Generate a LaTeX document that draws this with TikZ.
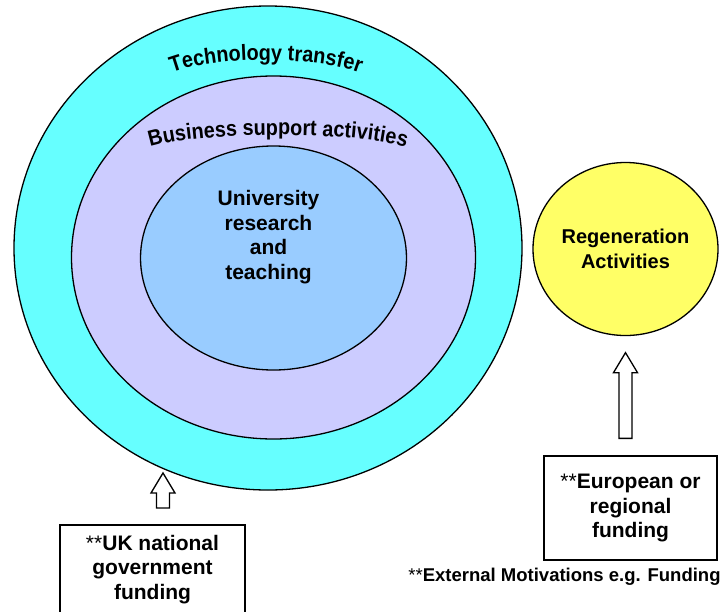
\documentclass[tikz,border=0pt]{standalone}
\usepackage{fontspec}
\setmainfont{Liberation Sans}
\newfontfamily\archfont[FakeStretch=0.9]{Liberation Sans}
\usetikzlibrary{positioning,calc,shapes.geometric,decorations.text}

\definecolor{techcyan}{RGB}{102,255,255}
\definecolor{busililac}{RGB}{204,204,255}
\definecolor{unisky}{RGB}{153,204,255}
\definecolor{regenyellow}{RGB}{255,255,102}

\begin{document}
\begin{tikzpicture}[x=1pt,y=-1pt,line width=1.3pt]
    \tikzset{ring/.style={ellipse, draw=black, inner sep=0pt},
             roundtext/.style={align=center,
                               font=\fontsize{21}{24.5}\selectfont\bfseries},
             boxed/.style={rectangle, draw=black, fill=white, roundtext},
             blockarrow/.style={draw=black, fill=white,
                 to path={let \p1=(\tikztostart), \p2=(\tikztotarget) in
                          (\x1-6.5pt,\y1) -- (\x1-6.5pt,\y2-20pt)
                          -- (\x1-12pt,\y2-20pt) -- (\x2,\y2)
                          -- (\x1+12pt,\y2-20pt) -- (\x1+6.5pt,\y2-20pt)
                          -- (\x1+6.5pt,\y1) -- cycle}}}

    \useasboundingbox (0,0) rectangle (723,611);

    % nested rings
    \node[ring, fill=techcyan, minimum width=508pt, minimum height=484pt] (tech) at (268,248) {};
    \node[ring, fill=busililac, minimum width=404pt, minimum height=363pt] (busi) at (273.5,257.5) {};
    \node[ring, fill=unisky, minimum width=266pt, minimum height=224pt] (uni) at (273.5,258) {};
    \node[roundtext] (unitext) at ([xshift=-5pt,yshift=21pt]uni.center) {University\\research\\and\\teaching};

    \path[decorate, decoration={text along path, text align=center,
          text={|\archfont\fontsize{22}{24}\selectfont\bfseries|Technology transfer}}]
          (165,76) .. controls (205,55) and (327,55) .. (367,76);
    \path[decorate, decoration={text along path, text align=center,
          text={|\archfont\fontsize{22}{24}\selectfont\bfseries|Business support activities}}]
          (143,150) .. controls (185,130) and (371,130) .. (413,150);

    \node[ring, fill=regenyellow, minimum width=185pt, minimum height=173pt,
          roundtext, font=\fontsize{20}{25}\selectfont\bfseries] (regen) at (625.5,249) {Regeneration\\Activities};

    % funding boxes
    \node[boxed, minimum width=185pt, minimum height=89pt] (ukbox) at (152.5,569.5) {\textmd{**}UK national\\government\\funding};
    \node[boxed, minimum width=173pt, minimum height=104pt] (eubox) at (630.5,508) {\textmd{**}European or\\regional\\funding};
    \node[font=\fontsize{18.5}{22}\selectfont\bfseries] (motive) at (564.5,577) {\textmd{**}External Motivations e.g. Funding};

    \coordinate (uktail) at (163,508);
    \coordinate (uktip) at (163,473);
    \coordinate (eutail) at ($(regen.south |- eubox.north)+(0,-17)$);
    \coordinate (eutip) at ($(regen.south)+(0,16.5)$);

    \draw[blockarrow] (uktail) to (uktip);
    \draw[blockarrow] (eutail) to (eutip);
\end{tikzpicture}
\end{document}
